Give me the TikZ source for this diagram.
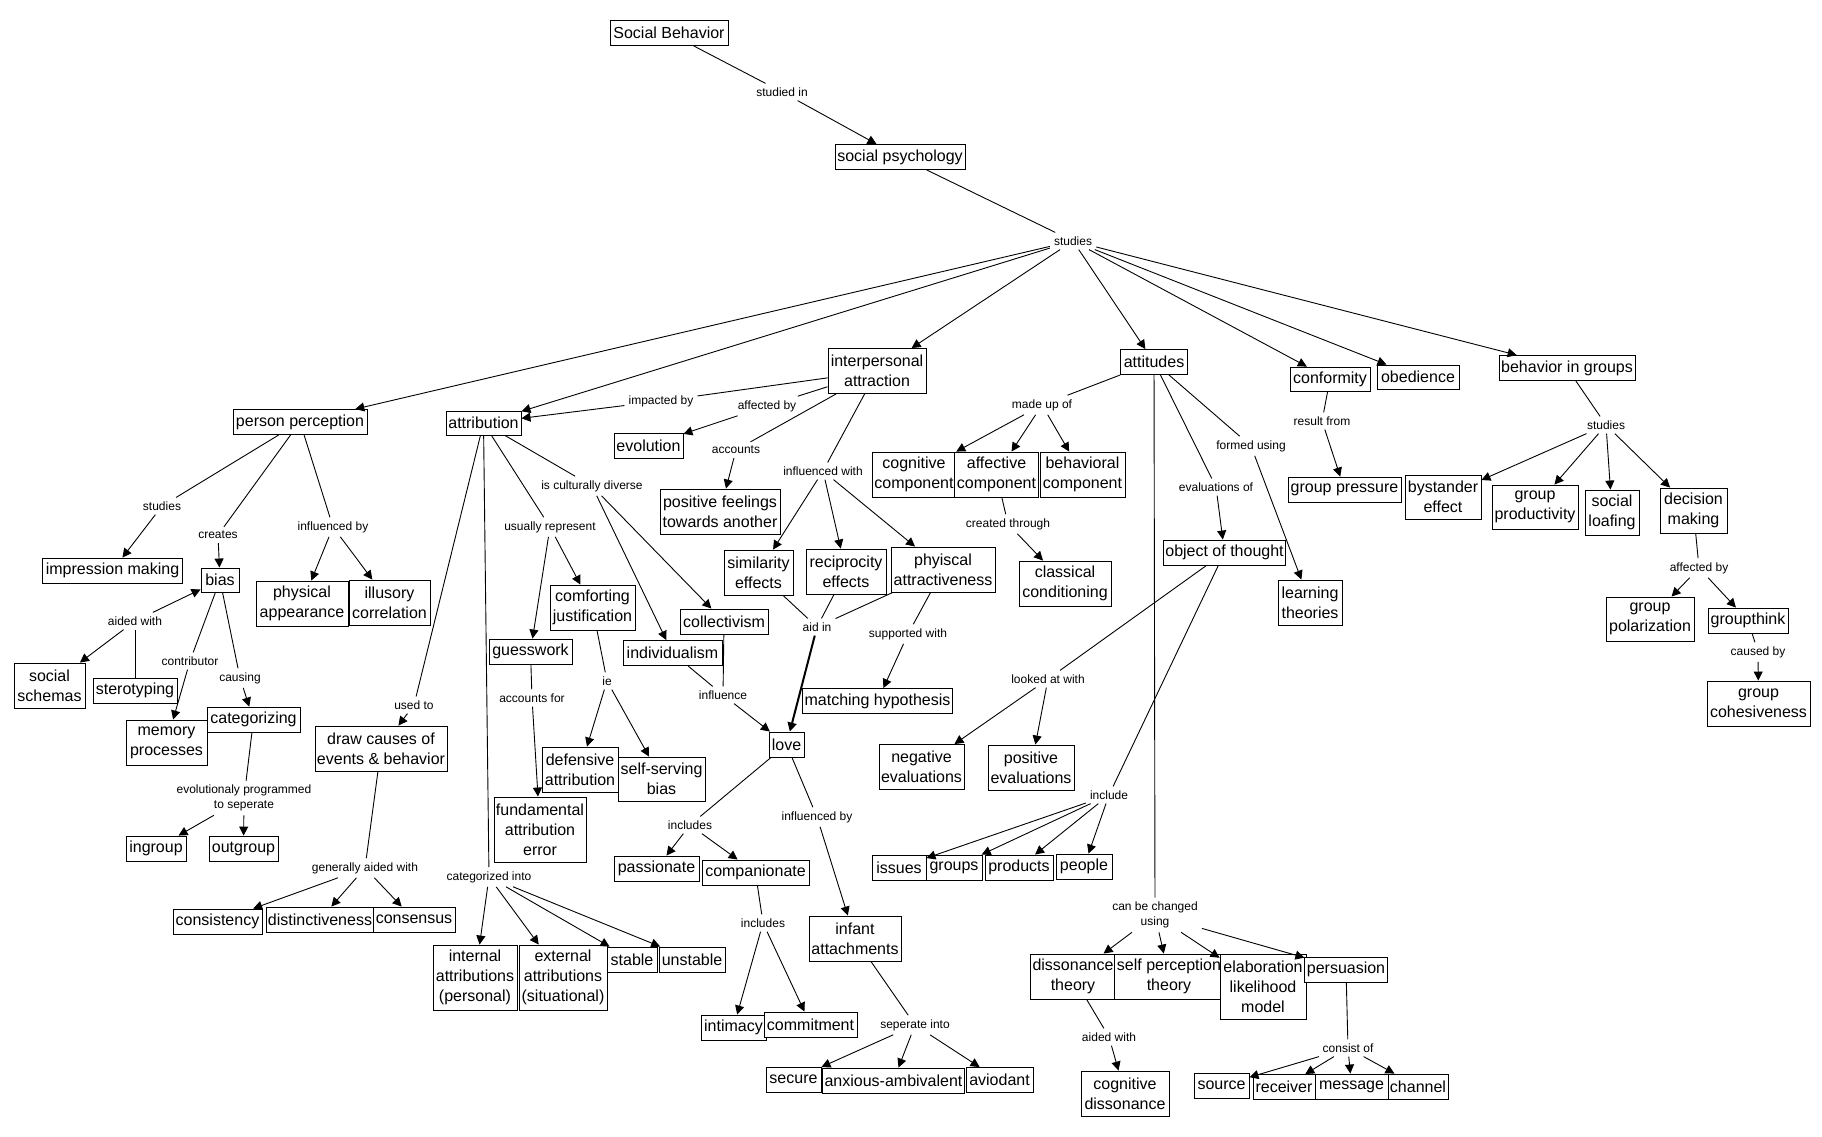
\documentclass[tikz,border=0pt]{standalone}
\usepackage{fontspec}
\setmainfont{Liberation Sans}
\usetikzlibrary{arrows.meta}
\tikzstyle{concept}=[draw,fill=white,line width=0.9pt,inner xsep=2pt,inner ysep=0pt,align=center,font=\fontsize{16}{20}\selectfont]
\tikzstyle{linkword}=[inner sep=4pt,align=center,font=\fontsize{12}{15}\selectfont]
\tikzstyle{edge} = [draw,line width=0.9pt,-{Triangle[length=9pt,width=9pt]}]
\tikzstyle{undirectededge} = [draw,line width=0.9pt]

\begin{document}
\begin{tikzpicture}[x=1pt,y=-1pt]
\useasboundingbox (0,0) rectangle (1822,1136);

%top
    \foreach \pos/\name/\w/\h/\txt in {{(669,33)/socbeh/118/25/Social Behavior}, {(900,157)/socpsy/130/25/social psychology},
        {(300,422)/perper/134/25/person perception}, {(483.5,423)/attrib/75/24/attribution}, {(877,371)/interp/98/45/interpersonal\\attraction},
        {(1154,362)/attit/67/25/attitudes}, {(1330,379)/conf/80/24/conformity}, {(1418,377)/obed/82/24/obedience}, {(1567,368)/bgroups/136/25/behavior in groups}}
        \node[concept,minimum width=\w pt,minimum height=\h pt] (\name) at \pos {\txt};

%person perception
    \foreach \pos/\name/\w/\h/\txt in {{(112.5,570.5)/impress/140/25/impression making}, {(220,580)/bias/38/24/bias},
        {(302,603.5)/physapp/92/45/physical\\appearance}, {(389.5,602.5)/illus/81/45/illusory\\correlation},
        {(49.5,685.5)/schemas/71/45/social\\schemas}, {(135,690.5)/stereo/84/25/sterotyping},
        {(166.5,742.5)/memory/81/45/memory\\processes}, {(253.5,719.5)/categ/93/25/categorizing},
        {(156,848.5)/ingroup/60/25/ingroup}, {(243.5,848.5)/outgroup/69/25/outgroup}}
        \node[concept,minimum width=\w pt,minimum height=\h pt] (\name) at \pos {\txt};

%attribution
    \foreach \pos/\name/\w/\h/\txt in {{(381,748.5)/drawc/132/45/draw causes of\\events \& behavior},
        {(217.5,921.5)/consist/89/25/consistency}, {(320,919.5)/distinct/106/25/distinctiveness}, {(414,919.5)/consens/82/25/consensus},
        {(592.5,607.5)/comfort/85/45/comforting\\justification}, {(530.5,651.5)/guess/83/25/guesswork},
        {(724,621.5)/collect/88/25/collectivism}, {(672.5,653)/indiv/99/25/individualism},
        {(580,769.5)/defens/76/45/defensive\\attribution}, {(661.5,779)/selfserv/87/44/self-serving\\bias},
        {(540,829.5)/fae/92/65/fundamental\\attribution\\error},
        {(475,977.5)/internal/84/65/internal\\attributions\\(personal)}, {(563,977.5)/external/88/65/external\\attributions\\(situational)},
        {(632,959.5)/stable/50/25/stable}, {(692,959.5)/unstable/66/25/unstable}}
        \node[concept,minimum width=\w pt,minimum height=\h pt] (\name) at \pos {\txt};

%interpersonal attraction
    \foreach \pos/\name/\w/\h/\txt in {{(648.5,445.5)/evol/69/25/evolution}, {(720,511.5)/posfeel/120/45/positive feelings\\towards another},
        {(758.5,572.5)/simil/69/45/similarity\\effects}, {(846,571.5)/recip/80/45/reciprocity\\effects},
        {(943,569.5)/phyatt/104/45/phyiscal\\attractiveness}, {(877.5,701)/match/149/25/matching hypothesis},
        {(786.5,744.5)/love/35/25/love}, {(656.5,868.5)/passion/85/25/passionate}, {(755.5,872.5)/compan/107/25/companionate},
        {(733.5,1027.5)/intim/65/25/intimacy}, {(810.5,1024.5)/commit/93/25/commitment},
        {(855,938.5)/infant/92/45/infant\\attachments}, {(793.5,1079.5)/secure/55/25/secure},
        {(893.5,1080.5)/anxious/141/25/anxious-ambivalent}, {(999.5,1080)/aviod/67/25/aviodant}}
        \node[concept,minimum width=\w pt,minimum height=\h pt] (\name) at \pos {\txt};

%attitudes
    \foreach \pos/\name/\w/\h/\txt in {{(914,474.5)/cogcomp/84/45/cognitive\\component}, {(996.5,474.5)/affcomp/81/45/affective\\component},
        {(1082.5,474.5)/behcomp/85/45/behavioral\\component}, {(1065,583.5)/classic/92/45/classical\\conditioning},
        {(1224.5,552.5)/object/121/25/object of thought}, {(1310,602.5)/learn/64/45/learning\\theories},
        {(921.5,767)/negev/83/45/negative\\evaluations}, {(1031,767.5)/posev/86/45/positive\\evaluations},
        {(899,867.5)/issues/54/25/issues}, {(954,867.5)/groups/56/25/groups}, {(1019,867.5)/products/68/25/products}, {(1084,866.5)/people/56/25/people},
        {(1073,976.5)/disson/82/45/dissonance\\theory}, {(1169,976.5)/selfperc/110/45/self perception\\theory},
        {(1263,986.5)/elab/86/65/elaboration\\likelihood\\model}, {(1346,969.5)/persua/80/25/persuasion},
        {(1125,1093.5)/cogdis/88/45/cognitive\\dissonance},
        {(1221.5,1085.5)/source/55/25/source}, {(1284,1087)/receiver/62/25/receiver}, {(1351.5,1086.5)/message/73/25/message}, {(1418,1086.5)/channel/60/25/channel}}
        \node[concept,minimum width=\w pt,minimum height=\h pt] (\name) at \pos {\txt};

%conformity and groups
    \foreach \pos/\name/\w/\h/\txt in {{(1344.5,489.5)/gpress/113/25/group pressure},
        {(1443,497)/bystand/76/44/bystander\\effect}, {(1535,507)/gprod/86/44/group\\productivity},
        {(1612,512.5)/loaf/54/45/social\\loafing}, {(1693.5,510.5)/decis/67/45/decision\\making},
        {(1650,619)/gpolar/88/44/group\\polarization}, {(1748,620.5)/gthink/80/25/groupthink},
        {(1758.5,703.5)/gcohes/103/45/group\\cohesiveness}}
        \node[concept,minimum width=\w pt,minimum height=\h pt] (\name) at \pos {\txt};

% linking words
    \foreach \pos/\name/\txt in {{(782,92)/studiedin/studied in}, {(1073,241)/studies/studies},
        {(162,506)/ppstudies/studies}, {(218,535)/creates/creates}, {(333,527)/inflby/influenced by},
        {(135,621)/aided/aided with}, {(190,661)/contrib/contributor}, {(240,678)/causing/causing},
        {(244,798)/evolprog/evolutionaly programmed\\to seperate}, {(414,705)/usedto/used to}, {(365,868)/genaided/generally aided with},
        {(661,401)/impacted/impacted by}, {(767,406)/affected/affected by}, {(736,450)/accounts/accounts},
        {(823,471)/inflwith/influenced with}, {(592,486)/cultural/is culturally diverse}, {(550,527)/usually/usually represent},
        {(817,627)/aidin/aid in}, {(908,634)/supported/supported with}, {(723,695)/influence/influence},
        {(607,681)/ie/ie}, {(532,698)/accfor/accounts for}, {(489,877)/catinto/categorized into},
        {(690,825)/includes/includes}, {(817,817)/loveinfl/influenced by}, {(763,923)/includestwo/includes},
        {(915,1025)/seperate/seperate into}, {(1042,405)/madeup/made up of}, {(1008,524)/created/created through},
        {(1251,446)/formed/formed using}, {(1216,487)/evalof/evaluations of}, {(1322,421)/result/result from},
        {(1048,679)/looked/looked at with}, {(1109,795)/include/include}, {(1155,915)/changed/can be changed\\using},
        {(1109,1037)/aidedw/aided with}, {(1348,1048)/consistof/consist of},
        {(1606,425)/bgstudies/studies}, {(1699,568)/affby/affected by}, {(1758,652)/causedby/caused by}}
        \node[linkword] (\name) at \pos {\txt};

    % concept to linking word
    \foreach \source/ \dest in {socbeh/studiedin, socpsy/studies, perper/ppstudies, perper/creates, perper/inflby,
        stereo/aided, bias/contrib, bias/causing, categ/evolprog, attrib/usedto, drawc/genaided,
        interp/impacted, interp/affected, interp/accounts, interp/inflwith, attrib/cultural, attrib/usually,
        simil/aidin, recip/aidin, phyatt/aidin, phyatt/supported, indiv/influence, collect/influence,
        comfort/ie, guess/accfor, attrib/catinto, love/includes, love/loveinfl, compan/includestwo, infant/seperate,
        attit/madeup, affcomp/created, attit/formed, attit/evalof, conf/result, object/looked, object/include,
        attit/changed, disson/aidedw, persua/consistof, bgroups/bgstudies, decis/affby, gthink/causedby}
        \path[undirectededge] (\source) -- (\dest);

    % linking word to concept
    \foreach \source/ \dest in {studiedin/socpsy, studies/perper, studies/attrib, studies/interp, studies/attit,
        studies/conf, studies/obed, studies/bgroups, ppstudies/impress, creates/bias, inflby/physapp, inflby/illus,
        aided/bias, aided/schemas, contrib/memory, causing/categ, evolprog/ingroup, evolprog/outgroup, usedto/drawc,
        genaided/consist, genaided/distinct, genaided/consens, impacted/attrib, affected/evol, accounts/posfeel,
        inflwith/simil, inflwith/recip, inflwith/phyatt, cultural/indiv, cultural/collect, usually/guess, usually/comfort,
        supported/match, influence/love, ie/defens, ie/selfserv, accfor/fae,
        catinto/internal, catinto/external, catinto/stable, catinto/unstable,
        includes/passion, includes/compan, loveinfl/infant, includestwo/intim, includestwo/commit,
        seperate/secure, seperate/anxious, seperate/aviod, madeup/cogcomp, madeup/affcomp, madeup/behcomp,
        created/classic, formed/learn, evalof/object, result/gpress, looked/negev, looked/posev,
        include/issues, include/groups, include/products, include/people,
        changed/disson, changed/selfperc, changed/elab, changed/persua, aidedw/cogdis,
        consistof/source, consistof/receiver, consistof/message, consistof/channel,
        bgstudies/bystand, bgstudies/gprod, bgstudies/loaf, bgstudies/decis, affby/gpolar, affby/gthink, causedby/gcohes}
        \path[edge] (\source) -- (\dest);

    \path[edge,line width=2pt] (aidin) -- (love);

\end{tikzpicture}
\end{document}
